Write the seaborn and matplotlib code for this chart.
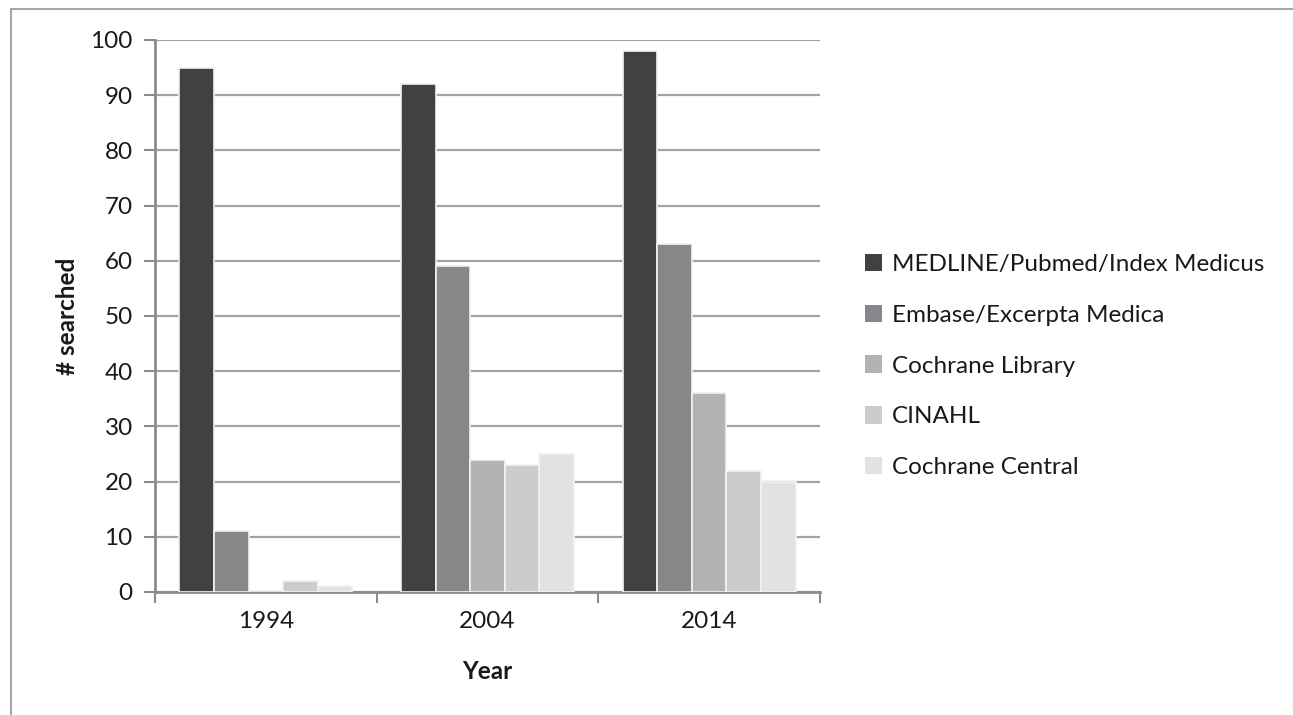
import matplotlib
matplotlib.use("Agg")
import matplotlib.pyplot as plt
import seaborn as sns
import pandas as pd
from matplotlib.patches import Rectangle, Patch

years = ["1994", "2004", "2014"]
databases = ["MEDLINE/Pubmed/Index Medicus", "Embase/Excerpta Medica",
             "Cochrane Library", "CINAHL", "Cochrane Central"]
medline = [95, 92, 98]
embase = [11, 59, 63]
cochrane_library = [0, 24, 36]
cinahl = [2, 23, 22]
cochrane_central = [1, 25, 20]
colors = ["#414144", "#86878b", "#b2b3b6", "#cbcccd", "#e1e2e3"]
yticks = list(range(0, 101, 10))

series = [medline, embase, cochrane_library, cinahl, cochrane_central]
rows = []
for name, vals in zip(databases, series):
    for y, v in zip(years, vals):
        rows.append({"Year": y, "Database": name, "Value": v})
df = pd.DataFrame(rows)

sns.set_theme(style="white")
plt.rcParams['font.family'] = ['Lato', 'DejaVu Sans']

FS = 17.5
fig = plt.figure(figsize=(12.93, 7.15), dpi=100)
ax = fig.add_axes([155/1293, 1-592/715, (820-155)/1293, (592-40)/715])

sns.barplot(data=df, x="Year", y="Value", hue="Database", order=years,
            hue_order=databases, palette=colors, width=0.78,
            edgecolor="#f2f2f2", linewidth=1.2, ax=ax, legend=False, zorder=3)

ax.set_ylim(0, 100)
ax.set_xlim(-0.5, 2.5)
ax.set_yticks(yticks)
ax.yaxis.grid(True, color="#a3a3a3", linewidth=1.6, zorder=0)
ax.set_axisbelow(True)
ax.tick_params(axis="y", length=8, width=1.5, color="#8c8c8c", pad=8,
               labelsize=FS, labelcolor="#1a1a1a", left=True)
ax.set_xticks([0, 1, 2])
ax.set_xticks([-0.5, 0.5, 1.5, 2.5], minor=True)
ax.tick_params(axis="x", which="major", length=0, pad=14, labelsize=FS,
               labelcolor="#1a1a1a")
ax.tick_params(axis="x", which="minor", length=8, width=1.5,
               color="#8c8c8c", bottom=True)
for s in ["top", "right"]:
    ax.spines[s].set_visible(False)
for s in ["left", "bottom"]:
    ax.spines[s].set_color("#8c8c8c")
    ax.spines[s].set_linewidth(2)

ax.set_xlabel("Year", fontsize=FS, fontweight="bold", color="#1a1a1a",
              labelpad=20)
ax.set_ylabel("# searched", fontsize=FS, fontweight="bold", color="#1a1a1a",
              labelpad=8)

handles = [Patch(facecolor=c, edgecolor="none") for c in colors]
fig.legend(handles, databases, loc="center left",
           bbox_to_anchor=(843/1293, 1-366/715), frameon=False, fontsize=FS,
           handlelength=0.72, handleheight=0.72, handletextpad=0.4,
           labelspacing=1.22, labelcolor="#1a1a1a")

fig.patches.append(Rectangle((11/1293, -0.1), 1.2, 1-9/715+0.1,
                             transform=fig.transFigure, fill=False,
                             edgecolor="#a6a6a6", linewidth=1.5))

fig.savefig("out.png", dpi=100)
